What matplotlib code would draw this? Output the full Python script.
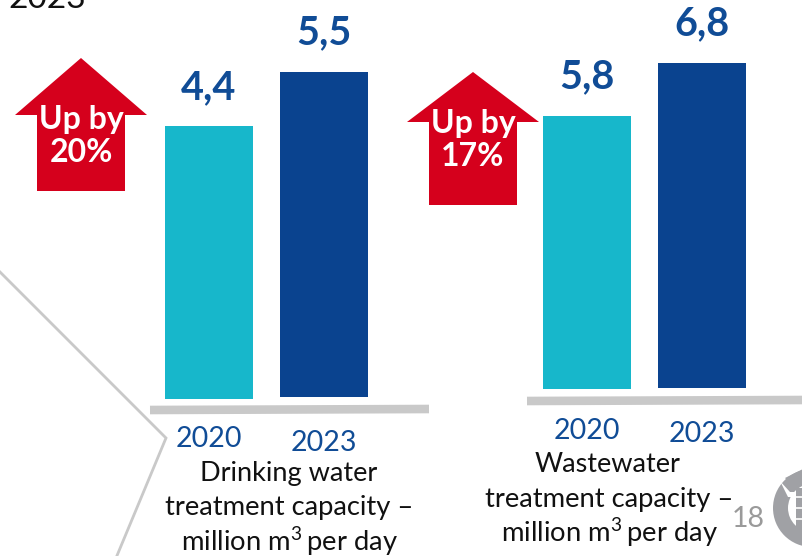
import matplotlib
matplotlib.use('Agg')
import matplotlib.pyplot as plt
from matplotlib.patches import Polygon, Wedge, Rectangle

plt.rcParams['font.family'] = ['Lato', 'DejaVu Sans']
plt.rcParams['mathtext.fontset'] = 'custom'
plt.rcParams['mathtext.rm'] = 'Lato'
plt.rcParams['mathtext.default'] = 'regular'

W, H = 803, 556
TEAL = '#17B7CB'
NAVY = '#0A438F'
LABEL_BLUE = '#104C96'
RED = '#D5001C'
GRAY = '#C9C9C9'

# bar heights, labels as printed
years = ['2020', '2023']
drinking_heights = [4.58, 5.5]
drinking_labels = ['4,4', '5,5']
waste_heights = [5.7, 6.8]
waste_labels = ['5,8', '6,8']


def px_axes(fig, left, right, top, bottom):
    return fig.add_axes([left / W, 1 - bottom / H, (right - left) / W, (bottom - top) / H])


def draw_bars(fig, left, right, top, base, ymax, heights, labels, low):
    ax = px_axes(fig, left, right, top, base)
    ax.set_xlim(0, 203)
    ax.set_ylim(0, ymax)
    ax.axis('off')
    for i, h in enumerate(heights):
        x = 44 + i * 115
        # first bar sits a pixel or two below the second one
        off = low * ymax / (base - top) if i == 0 else 0
        ax.bar(x, h + off, width=88, bottom=-off, color=TEAL if i == 0 else NAVY, clip_on=False)
        ax.annotate(labels[i], (x, h), xytext=(0, 28), textcoords='offset points', ha='center',
                    va='center', fontsize=28.5, fontweight='bold', color=LABEL_BLUE,
                    annotation_clip=False)
    return ax


def arrow(ov, cx, tip, wing, bot, lines, ys):
    pts = [(cx, tip), (cx + 66, wing), (cx + 44, wing), (cx + 44, bot), (cx - 44, bot),
           (cx - 44, wing), (cx - 66, wing)]
    ov.add_patch(Polygon(pts, closed=True, fc=RED, ec='none'))
    for s, y in zip(lines, ys):
        ov.text(cx, y, s, ha='center', va='center', fontsize=23, fontweight='bold', color='white')


fig = plt.figure(figsize=(W / 100, H / 100), dpi=100, facecolor='white')

ov = fig.add_axes([0, 0, 1, 1])
ov.set_xlim(0, W)
ov.set_ylim(H, 0)
ov.axis('off')

# chevron at the left edge
ov.plot([-2, 166, 116], [270, 438, 558], color=GRAY, lw=2, solid_joinstyle='miter')

# baselines
ov.plot([150, 429], [410, 409], color=GRAY, lw=6.2, solid_capstyle='butt')
ov.plot([527, 803], [401, 400], color=GRAY, lw=6.2, solid_capstyle='butt')

# cut off heading at the top
ov.text(8, 8, '2023', ha='left', va='baseline', fontsize=24, color='#111111')

arrow(ov, 81, 58, 115, 191, ['Up by', '20%'], [120, 153])
arrow(ov, 473, 72, 122, 205, ['Up by', '17%'], [124, 156])

draw_bars(fig, 165, 368, 72, 397, 5.5, drinking_heights, drinking_labels, 2)
draw_bars(fig, 543, 746, 63, 388, 6.8, waste_heights, waste_labels, 1)

for x, y, s in [(209, 439, years[0]), (324, 443, years[1]), (587, 431, years[0]), (702, 434, years[1])]:
    ov.text(x, y, s, ha='center', va='center', fontsize=20.5, color=LABEL_BLUE)

cap = '#111111'
sup_line = 'million m$^{3}\\,$per day'
ov.text(289, 474, 'Drinking water', ha='center', va='center', fontsize=19.5, color=cap)
ov.text(289, 507, 'treatment capacity –', ha='center', va='center', fontsize=19.7, color=cap)
ov.text(289, 542, sup_line, ha='center', va='center', fontsize=19.7, color=cap)
ov.text(608, 464, 'Wastewater', ha='center', va='center', fontsize=19.5, color=cap)
ov.text(609, 499, 'treatment capacity –', ha='center', va='center', fontsize=19.7, color=cap)
ov.text(609, 533, sup_line, ha='center', va='center', fontsize=19.7, color=cap)

ov.text(748, 519, '18', ha='center', va='center', fontsize=20.5, color='#9A9A9A')

# logo, partly off the canvas
LOGO = '#A0A1A5'
ov.add_patch(Wedge((812, 508), 39, 0, 360, width=15, fc=LOGO, ec='none'))
ov.add_patch(Polygon([(780, 481), (790, 492), (803, 492), (803, 497), (788, 497)],
                     closed=True, fc='white', ec='none'))
ov.add_patch(Polygon([(785, 478), (803, 469), (803, 480), (796, 489)], closed=True, fc=LOGO, ec='none'))
ov.add_patch(Rectangle((796, 488), 7, 44, fc=LOGO, ec='none'))
for y in (497, 508, 519):
    ov.plot([796, 803], [y, y], color='white', lw=1.2)

fig.savefig('out.png', dpi=100)
